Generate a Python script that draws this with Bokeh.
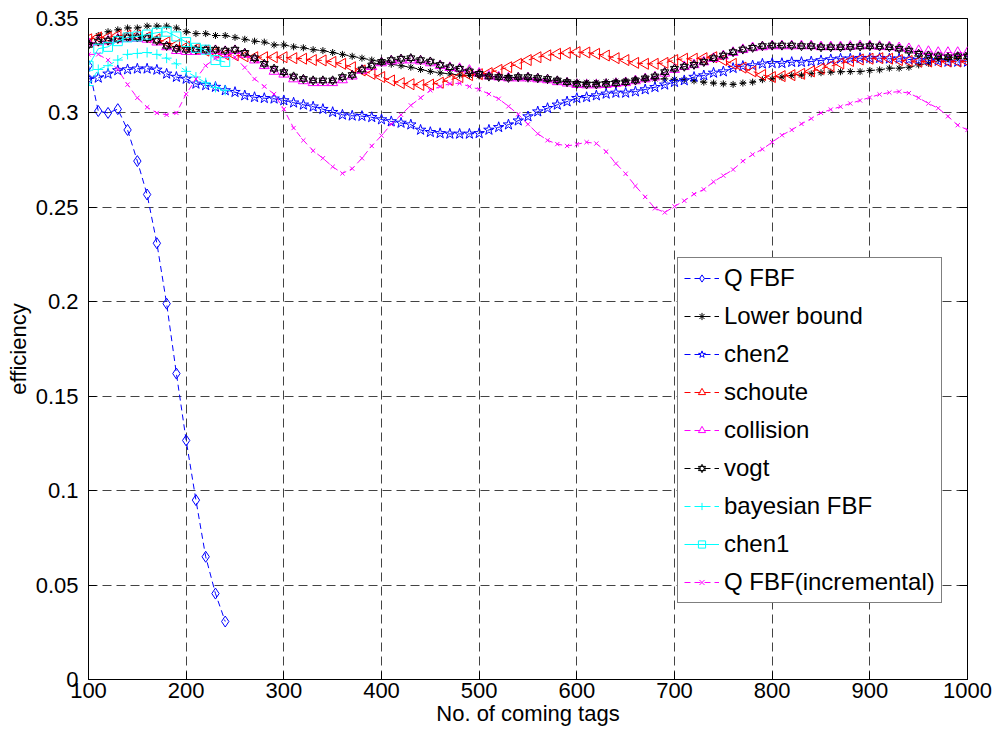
import numpy as np
from bokeh.plotting import figure
from bokeh.models import (Range1d, FixedTicker, LinearAxis, Legend, LegendItem,
                          PrintfTickFormatter, CustomJSTickFormatter)
from bokeh.embed import file_html
from bokeh.resources import INLINE

FONT = "Liberation Sans"

# ---------------- data ----------------
x_all = list(range(100, 1001, 10))
x_short = list(range(100, 241, 10))

x_ticks = [100, 200, 300, 400, 500, 600, 700, 800, 900, 1000]
y_ticks = [0, 0.05, 0.1, 0.15, 0.2, 0.25, 0.3, 0.35]

q_fbf = [0.325, 0.301, 0.300, 0.302, 0.291, 0.2745, 0.2568, 0.231, 0.199, 0.162,
         0.1266, 0.095, 0.065, 0.0455, 0.0307]

lower_bound = [
    0.338, 0.341, 0.343, 0.344, 0.345, 0.345, 0.346, 0.346, 0.346, 0.345,
    0.343, 0.342, 0.342, 0.341, 0.341, 0.340, 0.339, 0.338, 0.3375, 0.336,
    0.336, 0.335, 0.3345, 0.3335, 0.333, 0.332, 0.331, 0.330, 0.329, 0.328,
    0.327, 0.3258, 0.325, 0.3242, 0.323, 0.322, 0.3212, 0.3207, 0.320, 0.3198,
    0.3196, 0.3194, 0.319, 0.3188, 0.3185, 0.318, 0.3177, 0.3172, 0.317, 0.3166,
    0.3163, 0.3162, 0.3162, 0.3165, 0.3168, 0.317, 0.3175, 0.318, 0.318, 0.318,
    0.3178, 0.3175, 0.317, 0.3163, 0.3158, 0.3154, 0.3151, 0.3158, 0.3163, 0.3176,
    0.318, 0.319, 0.3198, 0.320, 0.3207, 0.3213, 0.3216, 0.3218, 0.3219, 0.3219,
    0.3225, 0.3228, 0.3237, 0.3237, 0.3242, 0.3254, 0.3263, 0.3282, 0.329, 0.330,
    0.331]

chen2 = [
    0.318, 0.3186, 0.3207, 0.3225, 0.323, 0.3234, 0.3234, 0.3228, 0.3207, 0.319,
    0.318, 0.3154, 0.3146, 0.3137, 0.3119, 0.311, 0.3092, 0.3083, 0.3078, 0.3075,
    0.3066, 0.3054, 0.3043, 0.3033, 0.302, 0.3004, 0.299, 0.2985, 0.2983, 0.2977,
    0.2965, 0.2955, 0.2947, 0.2938, 0.291, 0.2898, 0.2892, 0.2889, 0.2889, 0.2889,
    0.2892, 0.291, 0.2924, 0.2938, 0.2959, 0.2981, 0.3007, 0.3025, 0.3043, 0.306,
    0.3078, 0.3083, 0.3092, 0.3101, 0.3106, 0.3106, 0.3113, 0.3124, 0.3136, 0.3149,
    0.3163, 0.3172, 0.319, 0.3198, 0.3212, 0.3219, 0.3237, 0.3248, 0.3251, 0.326,
    0.3263, 0.3263, 0.3269, 0.3269, 0.3272, 0.3278, 0.3283, 0.3287, 0.3287, 0.329,
    0.329, 0.329, 0.3287, 0.3287, 0.3283, 0.328, 0.3278, 0.3275, 0.327, 0.327,
    0.327]

schoute = [
    0.339, 0.340, 0.340, 0.341, 0.341, 0.341, 0.340, 0.339, 0.3375, 0.336,
    0.335, 0.334, 0.333, 0.332, 0.331, 0.3305, 0.330, 0.3295, 0.3295, 0.3295,
    0.3295, 0.329, 0.3287, 0.328, 0.3278, 0.327, 0.326, 0.3242, 0.3225, 0.3207,
    0.319, 0.3172, 0.3158, 0.3152, 0.3148, 0.315, 0.316, 0.3175, 0.319, 0.320,
    0.3205, 0.3211, 0.3228, 0.3242, 0.326, 0.328, 0.3295, 0.3305, 0.3313, 0.3318,
    0.3322, 0.332, 0.3313, 0.3304, 0.329, 0.328, 0.3265, 0.326, 0.326, 0.3265,
    0.328, 0.3287, 0.3287, 0.329, 0.3295, 0.328, 0.326, 0.324, 0.322, 0.3201,
    0.319, 0.3195, 0.320, 0.3207, 0.322, 0.3234, 0.3248, 0.3262, 0.3275, 0.3283,
    0.3287, 0.329, 0.3287, 0.328, 0.3275, 0.3272, 0.3272, 0.3272, 0.3272, 0.3272,
    0.3272]

collision = [
    0.337, 0.3375, 0.338, 0.339, 0.3395, 0.3395, 0.339, 0.3375, 0.335, 0.333,
    0.3325, 0.3325, 0.333, 0.333, 0.3325, 0.333, 0.331, 0.328, 0.325, 0.322,
    0.3205, 0.318, 0.317, 0.316, 0.316, 0.316, 0.3175, 0.3195, 0.3225, 0.3245,
    0.3265, 0.3275, 0.328, 0.328, 0.3275, 0.3265, 0.325, 0.324, 0.3235, 0.3225,
    0.321, 0.3195, 0.319, 0.3185, 0.3185, 0.3185, 0.318, 0.3175, 0.3165, 0.3158,
    0.315, 0.3148, 0.3148, 0.315, 0.3155, 0.316, 0.317, 0.318, 0.319, 0.321,
    0.323, 0.3245, 0.3255, 0.327, 0.3288, 0.3302, 0.332, 0.3335, 0.3345, 0.335,
    0.3355, 0.3355, 0.3355, 0.3355, 0.3355, 0.335, 0.335, 0.335, 0.3352, 0.3355,
    0.3355, 0.3352, 0.335, 0.3345, 0.334, 0.333, 0.3325, 0.332, 0.332, 0.332,
    0.332]

vogt = [
    0.336, 0.3378, 0.3383, 0.3392, 0.340, 0.340, 0.3396, 0.3383, 0.3355, 0.334,
    0.3335, 0.3335, 0.3335, 0.3335, 0.333, 0.3335, 0.3318, 0.329, 0.326, 0.3234,
    0.3216, 0.3193, 0.318, 0.3172, 0.3172, 0.3172, 0.319, 0.3201, 0.323, 0.3251,
    0.327, 0.328, 0.3287, 0.329, 0.328, 0.3272, 0.3254, 0.3242, 0.3234, 0.322,
    0.3207, 0.3193, 0.319, 0.3186, 0.319, 0.319, 0.3185, 0.318, 0.3172, 0.3163,
    0.3154, 0.3151, 0.3151, 0.3154, 0.3158, 0.3163, 0.3172, 0.3183, 0.3193, 0.3216,
    0.3234, 0.3245, 0.3255, 0.327, 0.329, 0.3304, 0.3322, 0.3336, 0.3345, 0.3354,
    0.3357, 0.3357, 0.3357, 0.3354, 0.3354, 0.3348, 0.3348, 0.3348, 0.335, 0.3352,
    0.3354, 0.3352, 0.3348, 0.334, 0.333, 0.3313, 0.3304, 0.330, 0.3295, 0.330,
    0.330]

bayesian_fbf = [0.3145, 0.323, 0.325, 0.328, 0.331, 0.3315, 0.332, 0.331, 0.329, 0.326,
                0.322, 0.319, 0.316, 0.3135, 0.312]

chen1 = [0.325, 0.334, 0.335, 0.338, 0.340, 0.3405, 0.3415, 0.3425, 0.343, 0.3405,
         0.3375, 0.3345, 0.3335, 0.328, 0.327]

q_fbf_incremental = [
    0.331, 0.331, 0.328, 0.323, 0.315, 0.308, 0.303, 0.300, 0.299, 0.300,
    0.310, 0.318, 0.325, 0.329, 0.330, 0.3295, 0.324, 0.318, 0.314, 0.310,
    0.302, 0.292, 0.2855, 0.280, 0.276, 0.2715, 0.268, 0.2705, 0.276, 0.2825,
    0.288, 0.294, 0.299, 0.304, 0.308, 0.312, 0.314, 0.3155, 0.3157, 0.314,
    0.3125, 0.310, 0.3075, 0.3035, 0.2993, 0.294, 0.289, 0.2855, 0.2835, 0.2825,
    0.2834, 0.2845, 0.2838, 0.2795, 0.2732, 0.2678, 0.2613, 0.2555, 0.2495, 0.2473,
    0.2505, 0.2535, 0.257, 0.2595, 0.2635, 0.2668, 0.270, 0.2745, 0.278, 0.2808,
    0.2845, 0.2882, 0.291, 0.2942, 0.297, 0.300, 0.3018, 0.3033, 0.305, 0.3066,
    0.3082, 0.3098, 0.3108, 0.3113, 0.3105, 0.308, 0.305, 0.3025, 0.2982, 0.2935,
    0.291]

# ---------------- figure ----------------
p = figure(width=995, height=735, output_backend="svg", toolbar_location=None,
           x_range=Range1d(100, 1000), y_range=Range1d(0, 0.35),
           min_border_left=88, min_border_right=28, min_border_top=18,
           min_border_bottom=56)
p.background_fill_color = "white"
p.border_fill_color = "white"
p.outline_line_color = "black"
p.outline_line_width = 1

xa = p.xaxis[0]
ya = p.yaxis[0]
for ax, ticks in ((xa, x_ticks), (ya, y_ticks)):
    ax.ticker = FixedTicker(ticks=ticks)
    ax.formatter = PrintfTickFormatter(format="%g")
    ax.major_tick_in = 8
    ax.major_tick_out = 0
    ax.minor_tick_line_color = None
    ax.axis_line_color = "black"
    ax.major_tick_line_color = "black"
    ax.major_label_text_font = FONT
    ax.major_label_text_font_size = "22px"
    ax.major_label_text_color = "black"
    ax.axis_label_text_font = FONT
    ax.axis_label_text_font_size = "22px"
    ax.axis_label_text_font_style = "normal"
    ax.axis_label_text_color = "black"

xa.axis_label = "No. of coming tags"
xa.major_label_standoff = 3
xa.axis_label_standoff = 0
ya.axis_label = "efficiency"
ya.major_label_standoff = 10
ya.axis_label_standoff = 2

# mirrored axes (ticks only) on the right and top
blank = CustomJSTickFormatter(code="return ''")
for loc, ticks in (("right", y_ticks), ("above", x_ticks)):
    ax = LinearAxis(ticker=FixedTicker(ticks=ticks), formatter=blank,
                    major_tick_in=8, major_tick_out=0,
                    minor_tick_line_color=None, axis_line_color=None,
                    major_label_standoff=0, major_label_text_font_size="1px")
    p.add_layout(ax, loc)

p.xgrid.ticker = FixedTicker(ticks=x_ticks)
p.ygrid.ticker = FixedTicker(ticks=y_ticks)
for g in (p.xgrid, p.ygrid):
    g.grid_line_color = "#222222"
    g.grid_line_dash = "9 5"
    g.grid_line_width = 1
    g.grid_line_alpha = 0.85

DASH = "6 4"
items = []


def series(label, xs, ys, color, marker, size, dash=DASH, angle=0.0):
    ln = p.line(xs, ys, line_color=color, line_width=1, line_dash=dash)
    rs = [ln]
    if marker == "hexagram":
        for m in ("triangle", "inverted_triangle"):
            rs.append(p.scatter(xs, ys, marker=m, size=size, line_color=color,
                                fill_color=None, line_width=1))
    else:
        rs.append(p.scatter(xs, ys, marker=marker, size=size, line_color=color,
                            fill_color=None, line_width=1, angle=angle))
    items.append(LegendItem(label=label, renderers=rs))


series("Q FBF", x_short, q_fbf, "#0000ff", "diamond", 11)
series("Lower bound", x_all, lower_bound, "black", "asterisk", 7)
series("chen2", x_all, chen2, "#0000ff", "star", 11)
series("schoute", x_all, schoute, "#ff0000", "triangle", 11, angle=np.pi / 2)
series("collision", x_all, collision, "#ff00ff", "triangle", 10)
series("vogt", x_all, vogt, "black", "hexagram", 8)
series("bayesian FBF", x_short, bayesian_fbf, "#00ffff", "cross", 10)
series("chen1", x_short, chen1, "#00ffff", "square", 9, dash="solid")
series("Q FBF(incremental)", x_all, q_fbf_incremental, "#ff00ff", "x", 6)

legend = Legend(items=items, location=(589, 76))
legend.label_text_font = FONT
legend.label_text_font_size = "24px"
legend.label_text_color = "black"
legend.glyph_width = 35
legend.glyph_height = 18
legend.label_height = 27
legend.label_standoff = 5
legend.spacing = 10
legend.padding = 6
legend.margin = 0
legend.border_line_color = "black"
legend.border_line_width = 1
legend.background_fill_color = "white"
legend.background_fill_alpha = 1.0
p.add_layout(legend, "center")

open("out.html", "w").write(file_html(p, INLINE))
